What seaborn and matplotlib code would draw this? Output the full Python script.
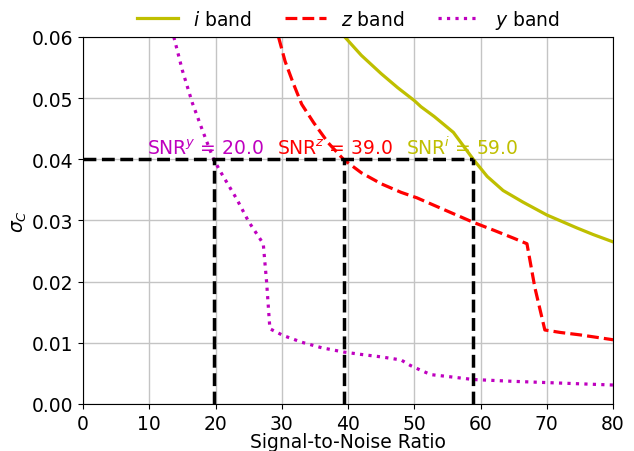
import matplotlib
matplotlib.use("Agg")
import matplotlib.pyplot as plt
import seaborn as sns
import pandas as pd

# --- data ---
i_snr = [39.5, 42, 45, 47.5, 50, 51, 53, 55.9, 58.9, 61, 63.4, 66.4, 70, 74.5, 77, 80]
i_sig = [0.060, 0.0570, 0.0540, 0.0517, 0.0496, 0.0486, 0.0470, 0.0444, 0.0400, 0.0372, 0.0349, 0.0330, 0.0309, 0.0288, 0.0277, 0.0265]

z_snr = [29.5, 30.5, 31.7, 33, 34.8, 37, 39.3, 42, 45, 48, 50.4, 54, 58.9, 62, 65, 67, 68.2, 69.7, 72, 75, 80]
z_sig = [0.060, 0.0560, 0.0525, 0.0490, 0.0460, 0.0427, 0.0400, 0.0378, 0.0360, 0.0346, 0.0337, 0.0320, 0.0297, 0.0284, 0.0271, 0.0262, 0.0190, 0.0121, 0.0117, 0.0113, 0.0105]

y_snr = [13.7, 15, 16.5, 18, 19.7, 21, 23.2, 25, 27.2, 27.7, 28.2, 30.2, 33, 36, 39.3, 42, 45, 48, 49.4, 51, 52.5, 55, 58.9, 65, 70, 75, 80]
y_sig = [0.060, 0.0545, 0.0492, 0.0448, 0.0400, 0.0375, 0.0335, 0.0298, 0.0262, 0.0200, 0.0123, 0.0112, 0.0101, 0.0092, 0.0085, 0.0081, 0.0077, 0.0072, 0.0063, 0.0055, 0.0048, 0.0045, 0.0040, 0.0037, 0.0035, 0.0033, 0.0031]

labels = ["$i$ band", "$z$ band", "$y$ band"]
colors = ["y", "r", "m"]
styles = ["-", "--", ":"]

snr_lines = [19.8, 39.4, 58.9]
snr_text = ["SNR$^y$ = 20.0", "SNR$^z$ = 39.0", "SNR$^i$ = 59.0"]
text_colors = ["m", "r", "y"]
sigma_target = 0.04

df = pd.concat([
    pd.DataFrame({"snr": i_snr, "sig": i_sig, "band": labels[0]}),
    pd.DataFrame({"snr": z_snr, "sig": z_sig, "band": labels[1]}),
    pd.DataFrame({"snr": y_snr, "sig": y_sig, "band": labels[2]}),
])

plt.rcParams.update(plt.rcParamsDefault)
plt.rcParams["font.family"] = ["DejaVu Sans"]
plt.rcParams["font.size"] = 13.5

fig = plt.figure(figsize=(6.34, 4.52), dpi=100)
ax = fig.add_axes([0.131, 0.104, 0.836, 0.812])

for lab, c, ls in zip(labels, colors, styles):
    sub = df[df["band"] == lab]
    sns.lineplot(data=sub, x="snr", y="sig", ax=ax, color=c, linestyle=ls,
                 linewidth=2.3, label=lab, sort=False, estimator=None)

ax.plot([0, snr_lines[2]], [sigma_target, sigma_target], "k--", lw=2.5)
for xv in snr_lines:
    ax.plot([xv, xv], [0, sigma_target], "k--", lw=2.5)
for xv, t, c in zip(snr_lines, snr_text, text_colors):
    ax.text(xv - 10.2, 0.0408, t, color=c, fontsize=13.5)

ax.set_xlim(0, 80)
ax.set_ylim(0, 0.06)
ax.set_xticks(range(0, 81, 10))
ax.set_yticks([0, 0.01, 0.02, 0.03, 0.04, 0.05, 0.06])
ax.set_yticklabels(["0.00", "0.01", "0.02", "0.03", "0.04", "0.05", "0.06"])
ax.grid(True, color="#c4c4c4", lw=1.0)
ax.set_xlabel("Signal-to-Noise Ratio", labelpad=-0.5)
ax.set_ylabel(r"$\sigma_C$", labelpad=2)
ax.legend(loc="center", bbox_to_anchor=(0.5, 1.048), ncol=3, frameon=False,
          fontsize=13.5, handlelength=2.2, columnspacing=1.8, borderaxespad=0)

fig.savefig("out.png", dpi=100)
